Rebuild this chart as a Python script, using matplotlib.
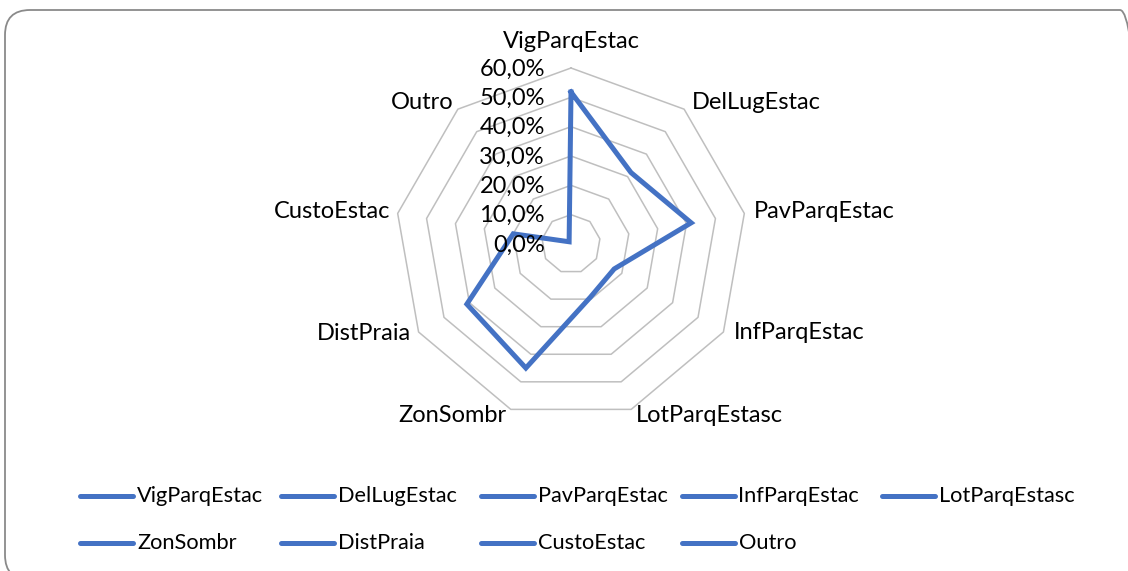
import numpy as np
import matplotlib
matplotlib.use("Agg")
import matplotlib.pyplot as plt
from matplotlib.lines import Line2D
from matplotlib.patches import FancyBboxPatch
from matplotlib.transforms import IdentityTransform

categories = ["VigParqEstac", "DelLugEstac", "PavParqEstac", "InfParqEstac",
              "LotParqEstasc", "ZonSombr", "DistPraia", "CustoEstac", "Outro"]
values = [51.8, 31.8, 41.6, 17.0, 19.3, 45.0, 41.0, 20.0, 1.0]
ticks = [0, 10, 20, 30, 40, 50, 60]
tick_labels = ["0,0%", "10,0%", "20,0%", "30,0%", "40,0%", "50,0%", "60,0%"]

W, H = 1128, 571
DPI = 100
plt.rcParams['font.family'] = ['Lato', 'DejaVu Sans']
fig = plt.figure(figsize=(W / DPI, H / DPI), dpi=DPI)

# rounded border of the chart area (in pixels, origin bottom-left)
border = FancyBboxPatch((5, H - 580), 1145 - 5, 580 - 10,
                        boxstyle="round,pad=0,rounding_size=25",
                        transform=IdentityTransform(), facecolor='none',
                        edgecolor='#8A8A8A', linewidth=1.3, zorder=-1)
fig.add_artist(border)

cx, cy, R = 571, 244, 176
ax = fig.add_axes([(cx - R) / W, 1 - (cy + R) / H, 2 * R / W, 2 * R / H],
                  projection='polar')
ax.set_theta_zero_location('N')
ax.set_theta_direction(-1)
ax.set_ylim(0, ticks[-1])
ax.set_axis_off()

n = len(categories)
angles = np.arange(n) * 2 * np.pi / n
ang_c = np.append(angles, angles[0])

for t in ticks[1:]:
    ax.plot(ang_c, [t] * (n + 1), color='#BFBFBF', lw=1.1, zorder=1, clip_on=False)

vals_c = np.append(values, values[0])
ax.plot(ang_c, vals_c, color='#4472C4', lw=3.6, solid_joinstyle='miter', zorder=3,
        clip_on=False)

FS = 17
for t, lab in zip(ticks, tick_labels):
    ax.annotate(lab, xy=(0, t), xytext=(-26, -1), textcoords='offset pixels',
                ha='right', va='center', fontsize=FS, color='black', zorder=4,
                annotation_clip=False)

# category label offsets (pixels) relative to outer vertex
offs = [(0, 26, 'center'), (8, 7, 'left'), (10, 2, 'left'), (10, -1, 'left'),
        (5, -6, 'left'), (-4, -6, 'right'), (-8, -1, 'right'), (-7, 2, 'right'),
        (-4, 7, 'right')]
for a, lab, (dx, dy, ha) in zip(angles, categories, offs):
    ax.annotate(lab, xy=(a, ticks[-1]), xytext=(dx, dy), textcoords='offset pixels',
                ha=ha, va='center', fontsize=FS, color='black',
                annotation_clip=False)

# legend, laid out in fixed-width columns
for i, lab in enumerate(categories):
    row, col = divmod(i, 5)
    x0 = 80 + col * 200.5
    y = 496 + row * 47
    fig.add_artist(Line2D([x0 / W, (x0 + 53) / W], [1 - y / H, 1 - y / H],
                          transform=fig.transFigure, color='#4472C4', lw=3.6,
                          solid_capstyle='round'))
    fig.text((x0 + 57) / W, 1 - y / H, lab, ha='left', va='center',
             fontsize=15.7, color='black')

fig.savefig('out.png', dpi=DPI)
